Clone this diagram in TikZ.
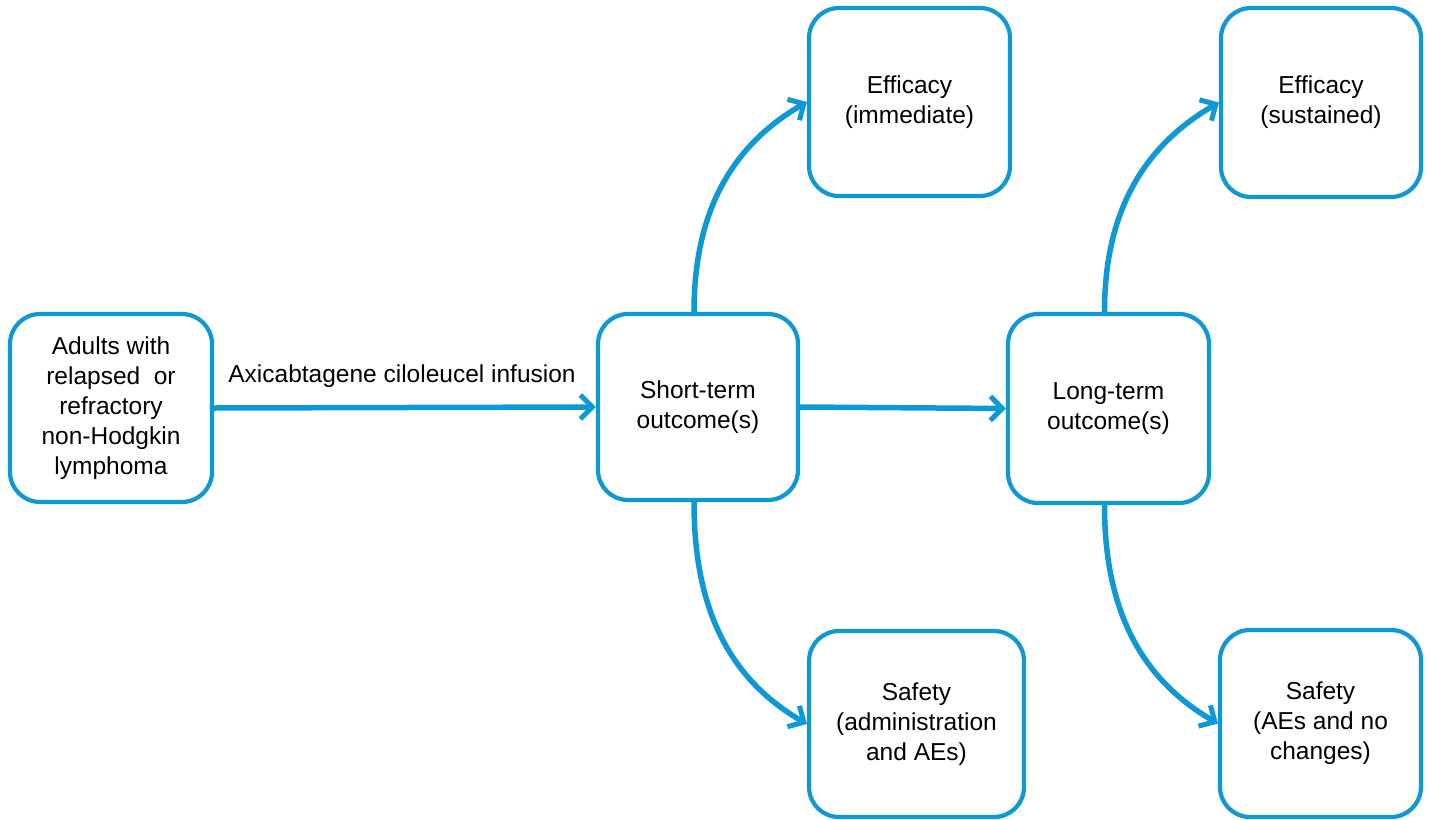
\documentclass[tikz,border=0pt]{standalone}
\usepackage{fontspec}
\setmainfont{Liberation Sans}
\usetikzlibrary{arrows.meta}
\definecolor{flowblue}{RGB}{14,152,212}
\begin{document}
\begin{tikzpicture}[x=1pt,y=-1pt,
  box/.style={draw=flowblue, line width=4.2pt, rounded corners=30pt, fill=white,
    align=center, inner sep=0pt, font=\fontsize{24.5}{30}\selectfont},
  conn/.style={draw=flowblue, line width=5.5pt,
    -{Straight Barb[length=12pt,width=24pt,line width=5pt]}},
  lbl/.style={font=\fontsize{24.5}{30}\selectfont, inner sep=0pt}]
\useasboundingbox[fill=white] (0,0) rectangle (1429,819);
\node[box, minimum width=202pt, minimum height=188pt] (adult) at (111,408)
  {Adults with\\relapsed~ or\\refractory\\non-Hodgkin\\lymphoma};
\node[box, minimum width=200pt, minimum height=186pt] (st) at (698,407)
  {Short-term\\outcome(s)};
\node[box, minimum width=201pt, minimum height=189pt] (lt) at (1108.5,408.5)
  {Long-term\\outcome(s)};
\node[box, minimum width=201pt, minimum height=188pt] (e1) at (909.5,102)
  {Efficacy\\(immediate)};
\node[box, minimum width=215pt, minimum height=186pt] (s1) at (916.5,724)
  {Safety\\(administration\\and AEs)};
\node[box, minimum width=200pt, minimum height=189pt] (e2) at (1321,102.5)
  {Efficacy\\(sustained)};
\node[box, minimum width=201pt, minimum height=187pt] (s2) at (1320.5,723.5)
  {Safety\\(AEs and no\\changes)};
\draw[conn] (adult.east) -- (st.west);
\node[lbl, anchor=base] (inf) at (402,382) {Axicabtagene ciloleucel infusion};
\draw[conn] (st.east) -- (lt.west);
\draw[conn] ([xshift=-4pt]st.north) to[out=90,in=210,looseness=1] (e1.west);
\draw[conn] ([xshift=-4pt]st.south) to[out=-90,in=150,looseness=1] (s1.west);
\draw[conn] ([xshift=-4pt]lt.north) to[out=90,in=210,looseness=1] (e2.west);
\draw[conn] ([xshift=-4pt]lt.south) to[out=-90,in=150,looseness=1] (s2.west);
\end{tikzpicture}
\end{document}
